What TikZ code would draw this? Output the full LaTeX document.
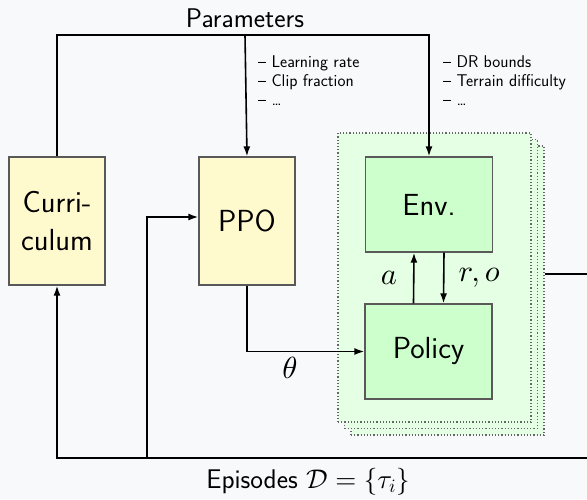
\documentclass[tikz,border=0pt]{standalone}
\usepackage{amsmath}
\usepackage{amssymb}
\usepackage{tikz}
\usetikzlibrary{arrows.meta}

% keep the design-size shapes at every size
\DeclareFontFamily{OT1}{cmss}{}
\DeclareFontShape{OT1}{cmss}{m}{n}{<-20> cmss8 <20-> cmss10}{}
\DeclareFontShape{OML}{cmm}{m}{it}{<-> cmmi10}{}
\DeclareFontShape{OMS}{cmsy}{m}{n}{<-> cmsy10}{}
\DeclareFontShape{OT1}{cmr}{m}{n}{<-> cmr10}{}

\definecolor{bgcol}{RGB}{248,249,250}
\definecolor{stagecol}{RGB}{255,249,206}
\definecolor{simcol}{RGB}{204,255,204}
\definecolor{stackcol}{RGB}{228,255,228}

\newcommand{\boxsize}{\fontsize{30.5}{38.5}\selectfont\sffamily}
\newcommand{\mainsize}{\fontsize{27}{32}\selectfont\sffamily}
\newcommand{\notesize}{\fontsize{17}{19}\selectfont\sffamily}

\begin{document}
\begin{tikzpicture}[x=1pt, y=-1pt,
	stage/.style={draw=black!65, line width=1.3pt, fill=stagecol, minimum width=96pt, minimum height=128pt, inner sep=0pt, font=\boxsize, align=center},
	simbox/.style={draw=black!65, line width=1.3pt, fill=simcol, minimum width=127pt, minimum height=95pt, inner sep=0pt, font=\boxsize},
	envcopy/.style={draw=black!60, dotted, line width=1.2pt, fill=stackcol, minimum width=193pt, minimum height=289pt, inner sep=0pt},
	flow/.style={line width=1.6pt, -{Latex[length=10pt,width=7pt]}},
	wire/.style={line width=1.6pt},
	note/.style={font=\notesize, align=left, anchor=west, inner sep=0pt},
	lbl/.style={font=\mainsize, inner sep=0pt},
	mathlbl/.style={font=\boxsize, inner sep=0pt}]
	\fill[bgcol] (0,0) rectangle (587,499);
	\useasboundingbox (0,0) rectangle (587,499);
	\clip (0,0) rectangle (587,499);
	
	% stacked environment copies
	\node[envcopy] (stackc) at (447.5,290.5) {};
	\node[envcopy] (stackb) at (441,284) {};
	\node[envcopy] (stacka) at (434.5,277.5) {};
	
	\node[stage] (curr) at (57,221) {Curri-\\culum};
	\node[stage] (ppo) at (247,221) {PPO};
	\node[simbox] (env) at (429,204.5) {Env.};
	\node[simbox] (policy) at (428.5,351.5) {Policy};
	
	\node[lbl] (params) at (245,18) {Parameters};
	\node[lbl] (episodes) at (308,482) {Episodes $\mathcal{D} = \{\tau_i\}$};
	
	\node[note] (ppoparams) at (258,81) {-- Learning rate\\-- Clip fraction\\-- \ldots};
	\node[note] (envparams) at (443,81) {-- DR bounds\\-- Terrain difficulty\\-- \ldots};
	
	\coordinate (ptop) at (245,35);
	\coordinate (outr) at (600,274);
	\coordinate (epi) at (147,458);
	
	% parameters from the curriculum
	\draw[flow] (curr.north) |- (ptop) -| (env.north);
	\draw[flow] (ptop) -- (ppo.north);
	
	% weights to the policy
	\draw[flow] (ppo.south) |- (policy.west);
	\node[mathlbl] (theta) at (290,368) {$\theta$};
	
	% interaction loop
	\draw[flow] ([xshift=-15pt]policy.north) -- ([xshift=-15pt]env.south) node[mathlbl, midway, left=16pt] (act) {$a$};
	\draw[flow] ([xshift=15pt]env.south) -- ([xshift=15pt]policy.north) node[mathlbl, midway, right=14pt] (obs) {$r, o$};
	
	% episodes back to curriculum and PPO
	\draw[wire] (stackc.east |- outr) -- (outr) -- (outr |- epi) -- (epi);
	\draw[flow] (epi) -| (curr.south);
	\draw[flow] (epi) |- ([yshift=4pt]ppo.west);
\end{tikzpicture}
\end{document}
